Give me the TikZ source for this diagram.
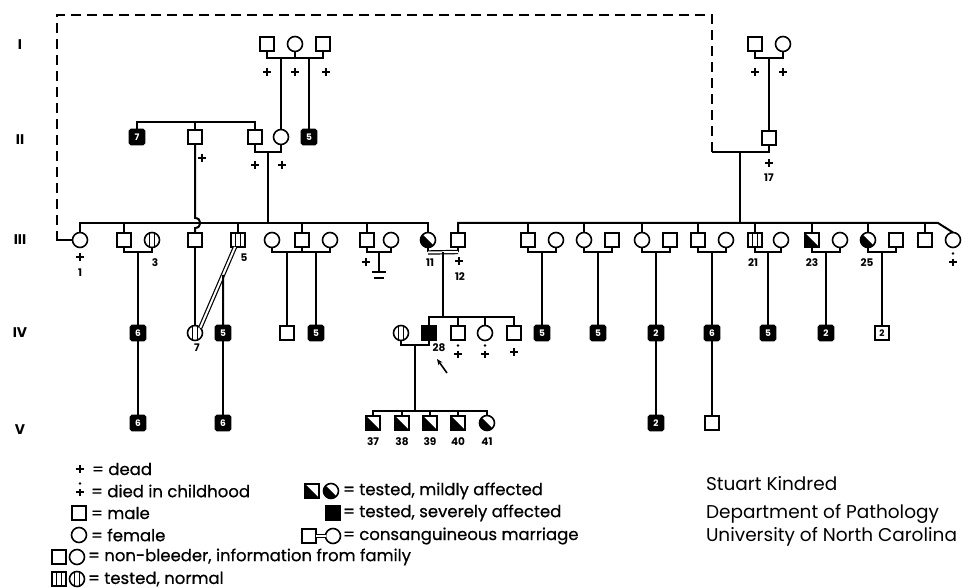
\documentclass[tikz,border=0pt]{standalone}
\usepackage{fontspec}
\setmainfont{Poppins}
\newfontfamily\legfont[FakeBold=0.6]{Poppins}
\usetikzlibrary{calc,arrows.meta}
\tikzset{
  sym/.style={draw,line width=1.6pt,inner sep=0pt,outer sep=0pt},
  male/.style={sym,rectangle,minimum size=14pt},
  female/.style={sym,circle,minimum size=15pt},
  tn/.style={path picture={\draw[line width=1.1pt]
     ([xshift=-2.4pt]path picture bounding box.north) -- ([xshift=-2.4pt]path picture bounding box.south)
     ([xshift=2.4pt]path picture bounding box.north) -- ([xshift=2.4pt]path picture bounding box.south);}},
  mild/.style={path picture={\fill (path picture bounding box.north west) -- (path picture bounding box.south west) -- (path picture bounding box.south east) -- cycle;}},
  sev/.style={fill=black},
  cnt/.style={male,minimum size=15pt,fill=black,rounded corners=1.5pt,text=white,font=\bfseries\fontsize{9}{9}\selectfont},
  wcnt/.style={male,font=\bfseries\fontsize{9}{9}\selectfont},
  lbl/.style={font=\bfseries\fontsize{10.5}{10.5}\selectfont,inner sep=0pt},
  gen/.style={font=\bfseries\fontsize{14}{14}\selectfont,inner sep=0pt},
  legtxt/.style={font=\legfont\fontsize{16.5}{16.5}\selectfont,anchor=west,inner sep=0pt},
  credit/.style={font=\fontsize{18.5}{18.5}\selectfont,anchor=west,inner sep=0pt},
  cons/.style={double,double distance=2pt,line width=1.2pt},
  deadmark/.pic={\draw[line width=2pt] (-4,0) -- (4,0) (0,-4) -- (0,4);},
  childmark/.pic={\draw[line width=2pt] (-4,0) -- (4,0) (0,-3) -- (0,4); \fill (0,-8.5) circle (1.4pt);},
}
\begin{document}
\begin{tikzpicture}[x=1pt,y=-1pt,line width=2pt]
\useasboundingbox (0,0) rectangle (962,588);

% generation labels
\node[gen] (gI) at (20,45) {I};
\node[gen] (gII) at (20,140) {II};
\node[gen] (gIII) at (20,240) {III};
\node[gen] (gIV) at (20,333) {IV};
\node[gen] (gV) at (20,430) {V};

% ---------------- Generation I
\node[male] (Ia) at (267,44) {};
\node[female] (Ib) at (295,44) {};
\node[male] (Ic) at (323,44) {};
\node[male] (Id) at (755,44) {};
\node[female] (Ie) at (783,44) {};
\pic at (267,72) {deadmark};
\pic at (295,72) {deadmark};
\pic at (326,72) {deadmark};
\pic at (755,72) {deadmark};
\pic at (783,72) {deadmark};
\draw (Ia.south) -- ++(0,7) -| (Ic.south);
\draw (Ib.south) -- ++(0,7);
\coordinate (cab) at ($(Ia.south)!.5!(Ib.south)+(0,7)$);
\coordinate (cbc) at ($(Ib.south)!.5!(Ic.south)+(0,7)$);
\draw (Id.south) -- ++(0,7) -| (Ie.south);
\coordinate (cde) at ($(Id.south)!.5!(Ie.south)+(0,7)$);

% ---------------- Generation II
\node[cnt] (IIa) at (137,137) {7};
\node[male] (IIb) at (195,137) {};
\node[male] (IIc) at (255,137) {};
\node[female] (IId) at (281,137) {};
\node[cnt] (IIe) at (309,137) {5};
\node[male] (IIf) at (769,138) {};
\draw (IIa.north) -- ++(0,-7) -| (IIc.north);
\draw (IIb.north) -- ++(0,-7);
\draw (cab) -- (cab |- IId.north);
\draw (cbc) -- (cbc |- IIe.north);
\draw (cde) -- (cde |- IIf.north);
\pic at (202,158) {deadmark};
\pic at (255,165) {deadmark};
\pic at (282,165) {deadmark};
\pic at (769,163) {deadmark};
\node[lbl] (l17) at (769,178) {17};
\draw (IIc.south) -- ++(0,8) -| (IId.south);
\coordinate (ccd) at ($(IIc.south)!.5!(IId.south)+(0,8)$);

% dashed marriage line II-17 and III-1
\coordinate (dC) at (712,152);
\coordinate (dTR) at (712,15);
\coordinate (dTL) at (57,15);
\coordinate (dBL) at (57,233);
\coordinate (dL) at (57,240);
\draw (IIf.south) -- ++(0,7) -- (dC);
\coordinate (cR) at (740,152);
\draw[dash pattern=on 10pt off 6pt] (dC) -- (dTR) -- (dTL) -- (dBL);

% ---------------- Generation III
\node[female] (IIIa) at (80,240) {};
\node[male] (IIIb) at (124,240) {};
\node[female,tn] (IIIc) at (152,240) {};
\node[male] (IIId) at (195,240) {};
\node[male,tn] (IIIe) at (238,240) {};
\node[female] (IIIf) at (272,240) {};
\node[male] (IIIg) at (302,240) {};
\node[female] (IIIh) at (330,240) {};
\node[male] (IIIi) at (367,240) {};
\node[female] (IIIj) at (391,240) {};
\node[female,mild] (IIIk) at (428,240) {};
\node[male] (IIIl) at (458,240) {};
\node[male] (IIIm) at (528,240) {};
\node[female] (IIIn) at (556,240) {};
\node[female] (IIIo) at (584,240) {};
\node[male] (IIIp) at (612,240) {};
\node[female] (IIIq) at (642,240) {};
\node[male] (IIIr) at (670,240) {};
\node[male] (IIIs) at (698,240) {};
\node[female] (IIIt) at (726,240) {};
\node[male,tn] (IIIu) at (755,240) {};
\node[female] (IIIv) at (781,240) {};
\node[male,mild] (IIIw) at (812,240) {};
\node[female] (IIIx) at (840,240) {};
\node[female,mild] (IIIy) at (868,240) {};
\node[male] (IIIz) at (896,240) {};
\node[male] (IIIaa) at (925,240) {};
\node[female] (IIIab) at (953,240) {};

\draw (dBL) -- (dL) -- (IIIa.west);

% left sibship
\coordinate (sL) at (0,223);
\draw (IIIa.north) |- (IIIk.north |- sL) -- (IIIk.north);
\foreach \n in {IIIb,IIIe,IIIg,IIIi} \draw (\n.north) -- (\n.north |- sL);
\draw (ccd) -- (ccd |- sL);
% hop line from II-b to III-d
\draw (IIb.south) -- (195,218) .. controls (202,218) and (202,228) .. (195,228) -- (IIId.north);

% right sibship
\coordinate (sR) at (938,223);
\draw (IIIl.north) |- (sR) -- (IIIab.north);
\foreach \n in {IIIm,IIIo,IIIq,IIIs,IIIu,IIIw,IIIy,IIIaa} \draw (\n.north) -- (\n.north |- sR);
\draw (cR) -- (cR |- sR);

% marriages III
\draw (IIIb.south) -- ++(0,5) -| (IIIc.south);
\coordinate (cIIIbc) at ($(IIIb.south)!.5!(IIIc.south)+(0,5)$);
\draw (IIIf.south) -- ++(0,5) -| (IIIh.south);
\draw (IIIg.south) -- ++(0,5);
\coordinate (cIIIfg) at ($(IIIf.south)!.5!(IIIg.south)+(0,5)$);
\coordinate (cIIIgh) at ($(IIIg.south)!.5!(IIIh.south)+(0,5)$);
\draw (IIIi.south) -- ++(0,5) -| (IIIj.south);
\coordinate (cIIIij) at ($(IIIi.south)!.5!(IIIj.south)+(0,5)$);
\coordinate (nb) at ($(cIIIij)+(0,20)$);
\draw (cIIIij) -- (nb);
\draw ([xshift=-7pt]nb) -- ([xshift=7pt]nb);
\draw ([xshift=-5pt,yshift=-6pt]nb) -- ([xshift=5pt,yshift=-6pt]nb);
\draw (IIIk.south) -- ++(0,5) coordinate (k5);
\draw (IIIl.south) -- ++(0,5) coordinate (l5);
\draw[cons] (k5) -- (l5);
\coordinate (cIIIkl) at ($(k5)!.5!(l5)$);
\draw (IIIm.south) -- ++(0,5) -| (IIIn.south);
\coordinate (cIIImn) at ($(IIIm.south)!.5!(IIIn.south)+(0,5)$);
\draw (IIIo.south) -- ++(0,5) -| (IIIp.south);
\coordinate (cIIIop) at ($(IIIo.south)!.5!(IIIp.south)+(0,5)$);
\draw (IIIq.south) -- ++(0,5) -| (IIIr.south);
\coordinate (cIIIqr) at ($(IIIq.south)!.5!(IIIr.south)+(0,5)$);
\draw (IIIs.south) -- ++(0,5) -| (IIIt.south);
\coordinate (cIIIst) at ($(IIIs.south)!.5!(IIIt.south)+(0,5)$);
\draw (IIIu.south) -- ++(0,5) -| (IIIv.south);
\coordinate (cIIIuv) at ($(IIIu.south)!.5!(IIIv.south)+(0,5)$);
\draw (IIIw.south) -- ++(0,5) -| (IIIx.south);
\coordinate (cIIIwx) at ($(IIIw.south)!.5!(IIIx.south)+(0,5)$);
\draw (IIIy.south) -- ++(0,5) -| (IIIz.south);
\coordinate (cIIIyz) at ($(IIIy.south)!.5!(IIIz.south)+(0,5)$);

% III marks and labels
\pic at (80,257) {deadmark};
\node[lbl] (l1) at (80,273) {1};
\node[lbl] (l3) at (155,263) {3};
\node[lbl] (l5) at (244,258) {5};
\pic at (366,262) {deadmark};
\node[lbl] (l11) at (430,263) {11};
\pic at (459,261) {deadmark};
\node[lbl] (l12) at (460,277) {12};
\node[lbl] (l21) at (753,263) {21};
\node[lbl] (l23) at (812,263) {23};
\node[lbl] (l25) at (867,263) {25};
\pic at (953,262) {childmark};

% ---------------- Generation IV
\node[cnt] (IVa) at (138,333) {6};
\node[female,tn] (IVb) at (195,333) {};
\node[cnt] (IVc) at (223,333) {5};
\node[male] (IVd) at (287,333) {};
\node[cnt] (IVe) at (316,333) {5};
\node[female,tn] (IVf) at (401,333) {};
\node[male,sev] (IVg) at (429,333) {};
\node[male] (IVh) at (458,333) {};
\node[female] (IVi) at (485,333) {};
\node[male] (IVj) at (514,333) {};
\node[cnt] (IVm) at (542,333) {5};
\node[cnt] (IVn) at (598,333) {5};
\node[cnt] (IVo) at (656,333) {2};
\node[cnt] (IVp) at (712,333) {6};
\node[cnt] (IVq) at (768,333) {5};
\node[cnt] (IVr) at (826,333) {2};
\node[wcnt] (IVs) at (882,333) {2};

\draw (cIIIbc) -- (cIIIbc |- IVa.north);
\draw (IIId.south) -- (IVb.north);
\coordinate (csA) at ([xshift=-3pt]IIIe.south);
\draw[cons] (csA) -- (IVb.north east);
\coordinate (csUp) at (IVc.north |- IIIe.south);
\coordinate (csJ) at (intersection of csA--IVb.north east and IVc.north--csUp);
\draw (csJ) -- (IVc.north);
\draw (cIIIfg) -- (cIIIfg |- IVd.north);
\draw (cIIIgh) -- (cIIIgh |- IVe.north);
\coordinate (sIV) at (0,317);
\draw (cIIIkl) -- (cIIIkl |- sIV);
\draw (IVg.north) |- (IVj.north |- sIV) -- (IVj.north);
\foreach \n in {IVh,IVi} \draw (\n.north) -- (\n.north |- sIV);
\draw (cIIImn) -- (cIIImn |- IVm.north);
\draw (cIIIop) -- (cIIIop |- IVn.north);
\draw (cIIIqr) -- (cIIIqr |- IVo.north);
\draw (cIIIst) -- (cIIIst |- IVp.north);
\draw (cIIIuv) -- (cIIIuv |- IVq.north);
\draw (cIIIwx) -- (cIIIwx |- IVr.north);
\draw (cIIIyz) -- (cIIIyz |- IVs.north);

\node[lbl] (l7) at (197,348) {7};
\node[lbl] (l28) at (439,348) {28};
\coordinate (arS) at (447,373);
\coordinate (arE) at (437,359);
\draw[-{Stealth[length=6pt,width=5pt]},line width=1.6pt] (arS) -- (arE);
\pic at (458,354) {childmark};
\pic at (485,354) {childmark};
\pic at (514,352) {deadmark};

\draw (IVf.south) -- ++(0,5) -| (IVg.south);
\coordinate (cIVfg) at ($(IVf.south)!.5!(IVg.south)+(0,5)$);

% ---------------- Generation V
\node[cnt] (Va) at (138,423) {6};
\node[cnt] (Vb) at (223,423) {6};
\node[male,mild] (V37) at (373,423) {};
\node[male,mild] (V38) at (402,423) {};
\node[male,mild] (V39) at (430,423) {};
\node[male,mild] (V40) at (458,423) {};
\node[female,mild] (V41) at (487,423) {};
\node[cnt] (Vo) at (656,423) {2};
\node[male] (Vp) at (712,423) {};

\draw (IVa.south) -- (Va.north);
\draw (IVc.south) -- (Vb.north);
\draw (IVo.south) -- (Vo.north);
\draw (IVp.south) -- (Vp.north);
\coordinate (sV) at (0,411);
\draw (cIVfg) -- (cIVfg |- sV);
\draw (V37.north) |- (V41.north |- sV) -- (V41.north);
\foreach \n in {V38,V39,V40} \draw (\n.north) -- (\n.north |- sV);
\node[lbl] (l37) at (373,442) {37};
\node[lbl] (l38) at (402,442) {38};
\node[lbl] (l39) at (430,442) {39};
\node[lbl] (l40) at (458,442) {40};
\node[lbl] (l41) at (487,442) {41};

% ---------------- Legend
\pic at (80,469) {deadmark};
\node[legtxt] (t1) at (91,469) {= dead};
\pic at (80,492) {childmark};
\node[legtxt] (t2) at (90,491) {= died in childhood};
\node[male] (Lm) at (79,513) {};
\node[legtxt] (t3) at (90,513) {= male};
\node[female] (Lf) at (79,535) {};
\node[legtxt] (t4) at (90,535) {= female};
\node[male] (Ln1) at (59,557) {};
\node[female] (Ln2) at (77,557) {};
\node[legtxt] (t5) at (87,557) {= non-bleeder, information from family};
\node[male,tn] (Lt1) at (59,579) {};
\node[female,tn] (Lt2) at (77,579) {};
\node[legtxt] (t6) at (87,579) {= tested, normal};

\node[male,mild] (Lma) at (312,491) {};
\node[female,mild] (Lmb) at (331,491) {};
\node[legtxt] (t7) at (342,491) {= tested, mildly affected};
\node[male,sev] (Ls) at (333,513) {};
\node[legtxt] (t8) at (342,513) {= tested, severely affected};
\node[male] (Lc1) at (309,536) {};
\node[female] (Lc2) at (333,536) {};
\draw[cons] (Lc1.east) -- (Lc2.west);
\node[legtxt] (t9) at (342,536) {= consanguineous marriage};

% ---------------- Credits
\node[credit] (c1) at (705,484) {Stuart Kindred};
\node[credit] (c2) at (705,514) {Department of Pathology};
\node[credit] (c3) at (705,537) {University of North Carolina};
\end{tikzpicture}
\end{document}
